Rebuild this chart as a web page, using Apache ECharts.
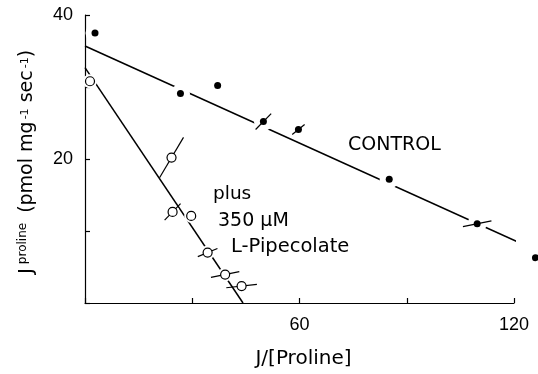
<!DOCTYPE html>
<html><head><meta charset="utf-8">
<script src="https://cdn.jsdelivr.net/npm/echarts@6/dist/echarts.min.js"></script>
<style>html,body{margin:0;padding:0;background:#fff}#c{width:538px;height:374px}</style>
</head><body><div id="c"></div>
<script>
// ---- data ----
const controlX   = [2.8, 26.7, 37.1, 49.9, 59.7, 85.1, 109.7, 126];
const controlY   = [37.5, 29.1, 30.2, 25.2, 24.1, 17.2, 11.0, 6.3];
const controlErr = [0, 0, 0, 1.1, 0.7, 0, 0.4, 0];
const pipX   = [1.4, 24.2, 24.5, 29.7, 34.3, 39.2, 43.8];
const pipY   = [30.8, 20.2, 12.65, 12.1, 7.0, 3.95, 2.35];
const pipErr = [0, 2.8, 1.15, 0, 0.56, 0.4, 0.23];
const controlFitX = [0, 124.5];
const controlFitY = [35.7, 7.7];
const pipFitX = [0, 44.2];
const pipFitY = [32.7, 0];
const xLabeled = [60, 120];
const yLabeled = [20, 40];

const NUMFONT = 'Liberation Sans, Arial, Helvetica, sans-serif';
const FONT = 'DejaVu Sans, Liberation Sans, sans-serif';
const zip = (a, b, c) => a.map((v, i) => c ? [v, b[i], c[i]] : [v, b[i]]);

function errBar(params, api) {
  const x = api.value(0), y = api.value(1), e = api.value(2);
  if (!e) return null;
  const f = e / y;
  const p1 = api.coord([x * (1 - f), y * (1 - f)]);
  const p2 = api.coord([x * (1 + f), y * (1 + f)]);
  return { type: 'line', shape: { x1: p1[0], y1: p1[1], x2: p2[0], y2: p2[1] },
           style: { stroke: '#000', lineWidth: 1.2 } };
}

const chart = echarts.init(document.getElementById('c'), null, { renderer: 'canvas' });
chart.setOption({
  animation: false,
  backgroundColor: '#fff',
  grid: { left: 85, top: 15, width: 429, height: 295, containLabel: false },
  xAxis: {
    type: 'value', min: 0, max: 120, interval: 30,
    axisLine: { lineStyle: { color: '#000', width: 1.2 } },
    axisTick: { inside: true, length: 5, lineStyle: { color: '#000', width: 1.2 } },
    axisLabel: { color: '#000', fontSize: 18, fontFamily: NUMFONT, margin: 13,
      formatter: v => xLabeled.includes(v) ? String(v) : '' },
    splitLine: { show: false },
    name: 'J/[Proline]', nameLocation: 'middle', nameGap: 46,
    nameTextStyle: { color: '#000', fontSize: 20, fontFamily: FONT, padding: [0, 0, 0, 8] }
  },
  yAxis: {
    type: 'value', min: 0, max: 40, interval: 10,
    axisLine: { lineStyle: { color: '#000', width: 1.2 } },
    axisTick: { inside: true, length: 5, lineStyle: { color: '#000', width: 1.2 } },
    axisLabel: { color: '#000', fontSize: 18, fontFamily: NUMFONT, margin: 12, padding: [5, 0, 0, 0],
      formatter: v => yLabeled.includes(v) ? String(v) : '' },
    splitLine: { show: false }
  },
  graphic: [
    { type: 'text', x: 27, y: 162, rotation: Math.PI / 2,
      style: {
        text: '{j|J}{p|proline}   {m|(pmol mg}{s|-1}{m| sec}{s|-1}{m|)}',
        align: 'center', verticalAlign: 'middle', fill: '#000',
        rich: {
          j: { fontSize: 20, lineHeight: 20, fontFamily: FONT, verticalAlign: 'bottom' },
          p: { fontSize: 12, lineHeight: 12, fontFamily: FONT, verticalAlign: 'top', padding: [0, 0, 14, 4] },
          m: { fontSize: 19, lineHeight: 20, fontFamily: FONT, verticalAlign: 'bottom' },
          s: { fontSize: 11, lineHeight: 11, fontFamily: FONT, verticalAlign: 'top', padding: [3, 0, 0, 2] }
        }
      } },
    { type: 'text', x: 348, y: 145, style: { text: 'CONTROL', fontSize: 19, fontFamily: FONT, fill: '#000', verticalAlign: 'middle' } },
    { type: 'text', x: 213, y: 194, style: { text: 'plus', fontSize: 18.5, fontFamily: FONT, fill: '#000', verticalAlign: 'middle' } },
    { type: 'text', x: 218, y: 221, style: { text: '350 µM', fontSize: 19, fontFamily: FONT, fill: '#000', verticalAlign: 'middle' } },
    { type: 'text', x: 231, y: 247, style: { text: 'L-Pipecolate', fontSize: 19.5, fontFamily: FONT, fill: '#000', verticalAlign: 'middle' } }
  ],
  series: [
    { type: 'line', data: zip(controlFitX, controlFitY), symbol: 'none', z: 1,
      lineStyle: { color: '#000', width: 1.5 }, clip: false },
    { type: 'line', data: zip(pipFitX, pipFitY), symbol: 'none', z: 1,
      lineStyle: { color: '#000', width: 1.5 }, clip: false },
    // white halos that break the fitted lines around the points
    { type: 'scatter', data: zip(controlX, controlY), symbol: 'circle', symbolSize: 19, z: 2,
      itemStyle: { color: '#fff', opacity: 1 }, clip: false, silent: true },
    { type: 'scatter', data: zip(pipX, pipY), symbol: 'circle', symbolSize: 14, z: 2,
      itemStyle: { color: '#fff', opacity: 1 }, clip: false, silent: true },
    { type: 'custom', data: zip(controlX, controlY, controlErr), renderItem: errBar, z: 3, clip: false },
    { type: 'custom', data: zip(pipX, pipY, pipErr), renderItem: errBar, z: 3, clip: false },
    { type: 'scatter', data: zip(controlX, controlY), symbol: 'circle', symbolSize: 7, z: 4,
      itemStyle: { color: '#000', opacity: 1 }, clip: false },
    { type: 'scatter', data: zip(pipX, pipY), symbol: 'circle', symbolSize: 9, z: 4,
      itemStyle: { color: '#fff', borderColor: '#000', borderWidth: 1.2, opacity: 1 }, clip: false }
  ]
});
</script></body></html>
